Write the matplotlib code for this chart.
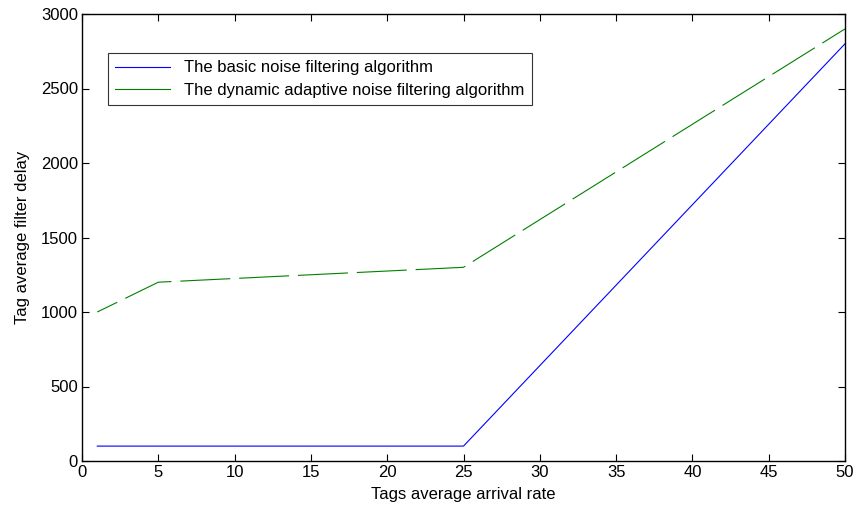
import matplotlib
matplotlib.use("Agg")
import matplotlib.pyplot as plt

x = [1, 5, 25, 50]
basic = [100, 100, 100, 2800]
dynamic = [1000, 1200, 1300, 2900]
xticks = list(range(0, 55, 5))
yticks = list(range(0, 3500, 500))

plt.rcParams['font.family'] = ['Liberation Sans', 'DejaVu Sans']
fig = plt.figure(figsize=(8.56, 5.18), dpi=100)
ax = fig.add_axes([82 / 856, 1 - 461 / 518, 763 / 856, 447 / 518])

ax.plot(x, basic, color='#0000ff', lw=0.8, label='The basic noise filtering algorithm')
ax.plot(x, dynamic, color='#008000', lw=0.8, linestyle=(25, (45, 8)),
        label='The dynamic adaptive noise filtering algorithm')

ax.set_xlim(0, 50)
ax.set_ylim(0, 3000)
ax.set_xticks(xticks)
ax.set_yticks(yticks)
ax.tick_params(direction='in', top=True, right=True, labelsize=12, length=5, width=0.8, pad=3)
for s in ax.spines.values():
    s.set_linewidth(1.0)
ax.set_xlabel('Tags average arrival rate', fontsize=12, labelpad=5)
ax.set_ylabel('Tag average filter delay', fontsize=12, labelpad=8)

leg = ax.legend(loc='upper left', bbox_to_anchor=(0.034, 0.913), fontsize=12,
                frameon=True, fancybox=False, edgecolor='black', handlelength=3.3,
                borderaxespad=0, labelspacing=0.45, borderpad=0.45, handletextpad=0.8)
leg.get_frame().set_linewidth(0.8)
for h in leg.get_lines():
    h.set_linestyle('-')

fig.savefig('out.png', dpi=100)
